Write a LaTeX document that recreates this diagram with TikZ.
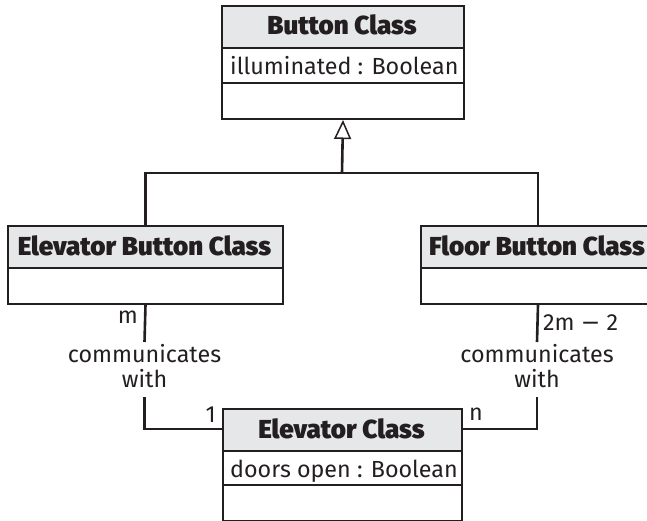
\documentclass[tikz,border=0pt]{standalone}
\usepackage{fontspec}
\setmainfont{Fira Sans}[BoldFont={Fira Sans Black}]
\newfontfamily\symfont{DejaVu Sans}
\usetikzlibrary{arrows.meta}
\definecolor{ink}{HTML}{231F20}
\definecolor{hdr}{HTML}{E6E7E8}
\begin{document}
\begin{tikzpicture}[x=1pt,y=-1pt,
  box/.style={draw=ink, line width=2pt, inner sep=0pt, anchor=north west},
  sep/.style={draw=ink, line width=2pt},
  hd/.style={font=\bfseries\fontsize{26}{28}\selectfont, text=ink, inner sep=0pt},
  tx/.style={font=\fontsize{23.3}{26}\selectfont, text=ink, inner sep=0pt},
  conn/.style={draw=ink, line width=2.6pt},
]
\useasboundingbox (0,0) rectangle (647,521);
\clip (0,0) rectangle (647,521);
% Button Class
\fill[hdr] (221,5) rectangle (463,48);
\node[box, minimum width=242pt, minimum height=113pt] (bc) at (221,5) {};
\draw[sep] (221,48) -- (463,48) (221,83) -- (463,83);
\node[hd, anchor=base] (bct) at (342,35) {Button Class};
\node[tx, anchor=base west] (bca) at (230,75) {illuminated : Boolean};
% Elevator Button Class
\fill[hdr] (7,225) rectangle (282,268);
\node[box, minimum width=275pt, minimum height=78pt] (ebc) at (7,225) {};
\draw[sep] (7,268) -- (282,268);
\node[hd, anchor=base] (ebct) at (144.5,255) {Elevator Button Class};
% Floor Button Class
\fill[hdr] (420,225) rectangle (654,268);
\node[box, minimum width=234pt, minimum height=78pt] (fbc) at (420,225) {};
\draw[sep] (420,268) -- (654,268);
\node[hd, anchor=base] (fbct) at (537,255) {Floor Button Class};
% Elevator Class
\fill[hdr] (222,408) rectangle (461,451);
\node[box, minimum width=239pt, minimum height=112pt] (ec) at (222,408) {};
\draw[sep] (222,451) -- (461,451) (222,485) -- (461,485);
\node[hd, anchor=base] (ect) at (341.5,438) {Elevator Class};
\node[tx, anchor=base west] (eca) at (230,477) {doors open : Boolean};
% generalization
\coordinate (j) at (342,173);
\draw[conn] (ebc.north) -- (ebc.north |- j) -- (fbc.north |- j) -- (fbc.north);
\draw[conn, -{Triangle[open, length=19pt, width=17pt, line width=1.5pt]}] (j) -- (bc.south);
% associations
\coordinate (a1) at (144.5,342);
\coordinate (a2) at (144.5,397);
\coordinate (c1) at (222,429);
\coordinate (b1) at (537,342);
\coordinate (b2) at (537,397);
\coordinate (d1) at (461,429);
\draw[conn] (ebc.south) -- (a1);
\draw[conn] (a2) |- (c1);
\draw[conn] (fbc.south) -- (b1);
\draw[conn] (b2) |- (d1);
\node[tx, anchor=base] (l1) at (144.5,362) {communicates};
\node[tx, anchor=base] (l1w) at (144.5,387) {with};
\node[tx, anchor=base] (l2) at (537,362) {communicates};
\node[tx, anchor=base] (l2w) at (537,387) {with};
\node[tx, anchor=base east] (m1) at (138,323) {m};
\node[tx, anchor=base east] (m2) at (216,422) {1};
\node[tx, anchor=base west] (m3) at (469,420) {n};
\node[tx, anchor=base west] (m4) at (543,330) {2m {\symfont −} 2};
\end{tikzpicture}
\end{document}
